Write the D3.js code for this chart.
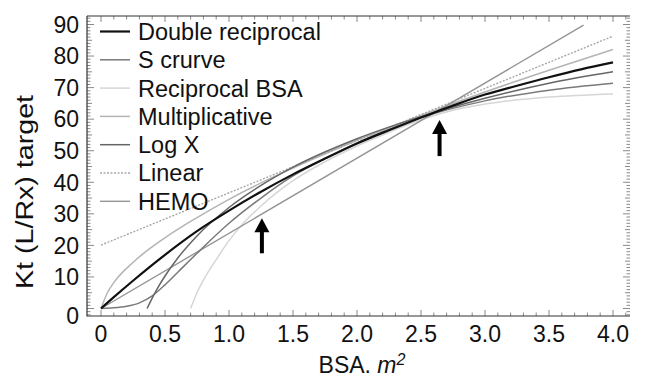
<!DOCTYPE html>
<html>
<head>
<meta charset="utf-8">
<script src="https://cdn.jsdelivr.net/npm/d3@7"></script>
<style>
  body { margin: 0; background: #fff; }
  text { font-family: "Liberation Sans", Arial, Helvetica, sans-serif; fill: #111; }
</style>
</head>
<body>
<div id="chart"></div>
<script>

// values: [BSA, Kt]
var seriesNames = ["Double reciprocal", "S crurve", "Reciprocal BSA", "Multiplicative", "Log X", "Linear", "HEMO"];

var doubleReciprocal = [[0,0],[0.1,3.6],[0.25,8.8],[0.5,17],[0.75,24.5],[1,31],[1.25,37],[1.5,42.5],[1.75,47.5],[2,52.3],[2.25,56.5],[2.5,60.5],[2.75,64.3],[3,67.8],[3.25,70.6],[3.5,73.3],[3.75,75.8],[4,78]];
var sCurve = [[0,0],[0.1,0.2],[0.2,0.7],[0.3,1.8],[0.4,4],[0.5,7.5],[0.6,11.5],[0.75,17.5],[1,27],[1.25,35],[1.5,42],[1.75,47.5],[2,52.5],[2.5,60.5],[3,65.8],[3.5,69.2],[4,71.4]];
var reciprocalBsa = [[0.7,0],[0.75,5],[0.8,9],[0.9,15.5],[1,21.5],[1.1,26.5],[1.25,32.5],[1.5,40.5],[1.75,46.5],[2,51.5],[2.25,55.8],[2.5,59.8],[2.75,62.8],[3,64.8],[3.5,67],[4,68]];
var multiplicative = [[0,0],[0.05,5],[0.1,8.2],[0.25,14.6],[0.5,22.4],[0.75,28.8],[1,34.6],[1.25,39.8],[1.5,44.5],[2,53.3],[2.5,61.2],[3,68.6],[3.5,75.5],[4,82.1]];
var logX = [[0.36,0],[0.4,3.3],[0.45,7],[0.5,10.3],[0.6,16],[0.75,23],[1,32],[1.25,39],[1.5,44.8],[2,53.8],[2.5,60.8],[3,66.6],[3.5,71.4],[4,75]];
var linear = [[0,20.1],[4,86.3]];
var hemo = [[0,0],[3.77,89.8]];

var xTicks = [0, 0.5, 1, 1.5, 2, 2.5, 3, 3.5, 4];
var xTickLabels = ["0", "0.5", "1.0", "1.5", "2.0", "2.5", "3.0", "3.5", "4.0"];
var yTicks = [0, 10, 20, 30, 40, 50, 60, 70, 80, 90];

// arrows: [BSA, tail Kt, tip Kt]
var arrows = [[1.257, 17.5, 28.6], [2.645, 48.3, 59.7]];

var seriesData = [doubleReciprocal, sCurve, reciprocalBsa, multiplicative, logX, linear, hemo];
var seriesStyle = [
  {color: "#111", width: 2.2, dash: null},
  {color: "#7a7a7a", width: 1.5, dash: null},
  {color: "#d6d6d6", width: 1.5, dash: null},
  {color: "#b4b4b4", width: 1.5, dash: null},
  {color: "#666", width: 1.5, dash: null},
  {color: "#a8a8a8", width: 1.4, dash: "2,1.5"},
  {color: "#959595", width: 1.4, dash: null}
];

var W = 646, H = 380;
var frame = {left: 87, top: 16, right: 630, bottom: 316};

var svg = d3.select("#chart")
  .append("svg")
    .attr("width", W)
    .attr("height", H);

var x = d3.scaleLinear().domain([0, 4]).range([101, 613]);
var y = d3.scaleLinear().domain([0, 90]).range([308.5, 24.5]);

// minor ticks, pointing inward
var g = svg.append("g").attr("stroke", "#8a8a8a").attr("stroke-width", 1);
d3.range(0, 42).forEach(function(i) {
  var v = i / 10;
  var len = (i % 5 == 0) ? 6 : 3.5;
  g.append("line").attr("x1", x(v)).attr("x2", x(v)).attr("y1", frame.bottom).attr("y2", frame.bottom - len);
  g.append("line").attr("x1", x(v)).attr("x2", x(v)).attr("y1", frame.top).attr("y2", frame.top + len);
});
d3.range(-2, 93).forEach(function(v) {
  var len = (v % 10 == 0) ? 7 : (v % 5 == 0 ? 5 : 3.5);
  g.append("line").attr("x1", frame.left).attr("x2", frame.left + len).attr("y1", y(v)).attr("y2", y(v));
  g.append("line").attr("x1", frame.right).attr("x2", frame.right - len).attr("y1", y(v)).attr("y2", y(v));
});

// frame (no right edge in the original)
svg.append("path")
  .attr("d", "M" + frame.left + "," + frame.top + "H" + frame.right +
             "M" + frame.left + "," + frame.top + "V" + frame.bottom + "H" + frame.right)
  .attr("fill", "none")
  .attr("stroke", "#333")
  .attr("stroke-width", 1.2);

// curves
var line = d3.line()
  .x(function(d) { return x(d[0]); })
  .y(function(d) { return y(d[1]); })
  .curve(d3.curveMonotoneX);

var order = [2, 3, 5, 6, 1, 4, 0];
order.forEach(function(i) {
  var st = seriesStyle[i];
  svg.append("path")
    .datum(seriesData[i])
    .attr("d", line)
    .attr("fill", "none")
    .attr("stroke", st.color)
    .attr("stroke-width", st.width)
    .attr("stroke-dasharray", st.dash);
});

// arrows
arrows.forEach(function(a) {
  var ax = x(a[0]), tail = y(a[1]), tip = y(a[2]);
  svg.append("line")
    .attr("x1", ax).attr("x2", ax)
    .attr("y1", tail).attr("y2", tip + 10)
    .attr("stroke", "#000").attr("stroke-width", 4);
  svg.append("path")
    .attr("d", "M" + ax + "," + tip + "L" + (ax - 7.5) + "," + (tip + 14) + "L" + (ax + 7.5) + "," + (tip + 14) + "Z")
    .attr("fill", "#000");
});

// tick labels
svg.selectAll(".xl")
  .data(xTicks)
  .enter()
  .append("text")
    .attr("x", function(d) { return x(d); })
    .attr("y", 342)
    .attr("text-anchor", "middle")
    .style("font-size", "23px")
    .text(function(d, i) { return xTickLabels[i]; });

svg.selectAll(".yl")
  .data(yTicks)
  .enter()
  .append("text")
    .attr("x", 79)
    .attr("y", function(d) { return d == 0 ? frame.bottom : y(d); })
    .attr("dy", "0.36em")
    .attr("text-anchor", "end")
    .style("font-size", "23px")
    .text(function(d) { return d; });

// axis titles
var xt = svg.append("text")
  .attr("x", 362)
  .attr("y", 373)
  .attr("text-anchor", "middle")
  .style("font-size", "23px");
xt.append("tspan").text("BSA. ");
xt.append("tspan").style("font-style", "italic").text("m");
xt.append("tspan").attr("dy", -8).style("font-size", "16px").style("font-style", "italic").text("2");

svg.append("text")
  .attr("transform", "translate(33,192) rotate(-90)")
  .attr("text-anchor", "middle")
  .attr("textLength", 194)
  .attr("lengthAdjust", "spacingAndGlyphs")
  .style("font-size", "23px")
  .text("Kt (L/Rx) target");

// legend
var legend = svg.append("g");
seriesNames.forEach(function(name, i) {
  var st = seriesStyle[i];
  var ly = 31.5 + i * 28.3;
  legend.append("line")
    .attr("x1", 100).attr("x2", 130)
    .attr("y1", ly).attr("y2", ly)
    .attr("stroke", st.color)
    .attr("stroke-width", st.width)
    .attr("stroke-dasharray", st.dash);
  legend.append("text")
    .attr("x", 138)
    .attr("y", ly)
    .attr("dy", "0.36em")
    .style("font-size", "23.5px")
    .text(name);
});

</script>
</body>
</html>
